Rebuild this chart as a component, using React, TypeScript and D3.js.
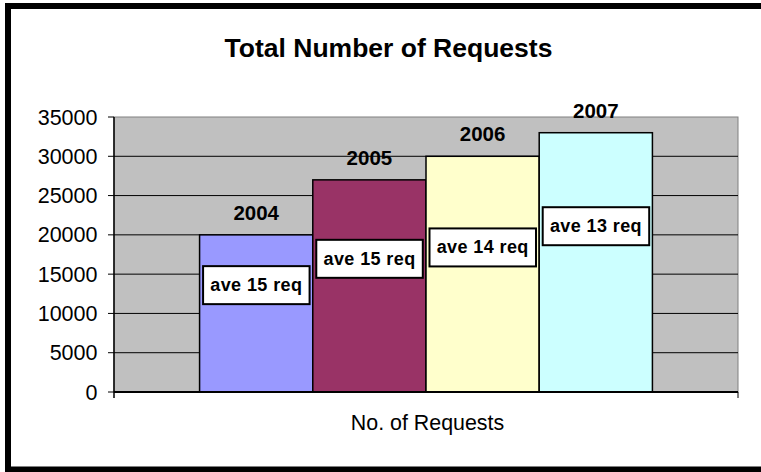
import React from "react";
import * as d3 from "d3";

// Yearly totals of requests
const years = ["2004", "2005", "2006", "2007"];
const totals = [20000, 27000, 30000, 33000];
const averages = ["ave 15 req", "ave 15 req", "ave 14 req", "ave 13 req"];
const barColors = ["#9999FF", "#993366", "#FFFFCC", "#CCFFFF"];
const categories = ["No. of Requests"];
const yTicks = [0, 5000, 10000, 15000, 20000, 25000, 30000, 35000];

// Vertical centre of each "ave" note, in request units
const noteCenters = [13600, 16950, 18400, 21100];

const W = 761;
const H = 472;
const plot = { left: 114, right: 738, top: 117, bottom: 392 };
const FONT = "'Liberation Sans', Arial, sans-serif";

export default function App() {
  const y = d3.scaleLinear().domain([0, 35000]).range([plot.bottom, plot.top]);
  const x0 = d3
    .scaleBand<string>()
    .domain(categories)
    .range([plot.left, plot.right])
    .paddingInner(0)
    .paddingOuter(0.189);
  const x1 = d3
    .scaleBand<string>()
    .domain(years)
    .range([0, x0.bandwidth()])
    .padding(0);

  const gx = x0(categories[0]) ?? 0;
  const noteW = 106.5;
  const noteH = 38;

  return (
    <svg
      width={W}
      height={H}
      style={{ position: "absolute", left: 0, top: 0, background: "#fff" }}
      fontFamily={FONT}
    >
      <rect x={0} y={0} width={W} height={H} fill="#fff" />
      {/* outer frame: left, top and bottom edges */}
      <path
        d={`M ${W + 10} 6 H 8 V 469.5 H ${W + 10}`}
        fill="none"
        stroke="#000"
        strokeWidth={6}
      />

      <text
        x={388.5}
        y={57}
        textAnchor="middle"
        fontSize={26.5}
        fontWeight="bold"
        fill="#000"
      >
        Total Number of Requests
      </text>

      {/* plot area */}
      <rect
        x={plot.left}
        y={plot.top}
        width={plot.right - plot.left}
        height={plot.bottom - plot.top}
        fill="#C0C0C0"
        stroke="#808080"
        strokeWidth={1}
      />

      {/* gridlines */}
      {yTicks.slice(1, -1).map((t) => (
        <line
          key={t}
          x1={plot.left}
          x2={plot.right}
          y1={y(t)}
          y2={y(t)}
          stroke="#000"
          strokeWidth={1}
        />
      ))}

      {/* bars */}
      {years.map((yr, i) => {
        const bx = gx + (x1(yr) ?? 0);
        return (
          <rect
            key={yr}
            x={bx}
            y={y(totals[i])}
            width={x1.bandwidth()}
            height={y(0) - y(totals[i])}
            fill={barColors[i]}
            stroke="#000"
            strokeWidth={1.5}
          />
        );
      })}

      {/* year labels */}
      {years.map((yr, i) => {
        const cx = gx + (x1(yr) ?? 0) + x1.bandwidth() / 2;
        return (
          <text
            key={yr}
            x={cx}
            y={y(totals[i]) - 15}
            textAnchor="middle"
            fontSize={20.5}
            fontWeight="bold"
            fill="#000"
          >
            {yr}
          </text>
        );
      })}

      {/* average notes */}
      {years.map((yr, i) => {
        const bx = gx + (x1(yr) ?? 0) + 3.5;
        const cy = y(noteCenters[i]);
        return (
          <g key={yr}>
            <rect
              x={bx}
              y={cy - noteH / 2}
              width={noteW}
              height={noteH}
              fill="#fff"
              stroke="#000"
              strokeWidth={2}
            />
            <text
              x={bx + noteW / 2}
              y={cy + 6}
              textAnchor="middle"
              fontSize={18}
              fontWeight="bold"
              letterSpacing={0.4}
              fill="#000"
            >
              {averages[i]}
            </text>
          </g>
        );
      })}

      {/* left axis */}
      <line x1={plot.left} x2={plot.left} y1={plot.top} y2={plot.bottom + 6} stroke="#000" strokeWidth={1.5} />
      {yTicks.map((t) => (
        <g key={t}>
          <line x1={plot.left - 6} x2={plot.left} y1={y(t)} y2={y(t)} stroke="#000" strokeWidth={1} />
          <text
            x={97.5}
            y={y(t) + 7.5}
            textAnchor="end"
            fontSize={21.5}
            fill="#000"
          >
            {t}
          </text>
        </g>
      ))}

      {/* bottom axis */}
      <line x1={plot.left} x2={plot.right} y1={plot.bottom} y2={plot.bottom} stroke="#000" strokeWidth={2} />
      <line x1={plot.right} x2={plot.right} y1={plot.bottom} y2={plot.bottom + 6} stroke="#000" strokeWidth={1} />
      <text
        x={gx + x0.bandwidth() / 2 + 1.5}
        y={430}
        textAnchor="middle"
        fontSize={21.4}
        fill="#000"
      >
        {categories[0]}
      </text>
    </svg>
  );
}
